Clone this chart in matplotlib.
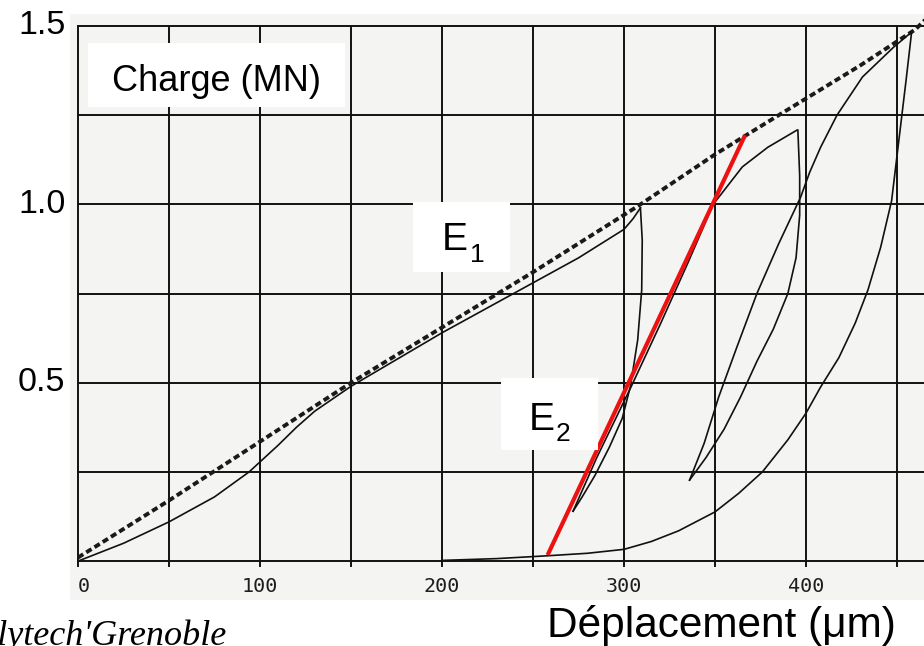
import matplotlib
matplotlib.use("Agg")
import matplotlib.pyplot as plt
from matplotlib.patches import Rectangle

plt.rcParams['font.family'] = ['Liberation Sans', 'DejaVu Sans']

# grid of the scanned chart
grid_x = [0, 50, 100, 150, 200, 250, 300, 350, 400, 450]
grid_y = [0, 0.25, 0.5, 0.75, 1.0, 1.25, 1.5]
xtick_pos = [3, 100, 200, 300, 400]
xtick_labels = ["0", "100", "200", "300", "400"]
ytick_pos = [1.5, 1.0, 0.5]
ytick_labels = ["1.5", "1.0", "0.5"]

# dashed envelope
env_x = [0, 50, 100, 150, 200, 250, 307, 350, 385, 430, 460, 466]
env_y = [0.01, 0.17, 0.335, 0.5, 0.655, 0.81, 0.993, 1.14, 1.25, 1.39, 1.49, 1.52]

# first loading up to 1.0 MN
load1_x = [0, 10, 25, 50, 75, 94, 110, 120, 130, 140, 150, 175, 200, 225, 250, 275, 300, 305, 309]
load1_y = [0, 0.02, 0.05, 0.11, 0.18, 0.25, 0.325, 0.375, 0.42, 0.455, 0.49, 0.565, 0.64, 0.71, 0.78, 0.85, 0.93, 0.96, 0.99]

unload1_x = [309, 310, 309.7, 307.5, 303.5, 299, 292, 284, 277, 272]
unload1_y = [0.99, 0.9, 0.76, 0.62, 0.49, 0.40, 0.32, 0.24, 0.18, 0.14]

reload1_x = [272, 285, 304, 320, 335, 349, 365, 379, 395]
reload1_y = [0.14, 0.29, 0.49, 0.665, 0.835, 1.0, 1.105, 1.16, 1.208]

unload2_x = [395.5, 396.5, 396.5, 394.5, 390, 382, 373, 364, 355, 345, 336]
unload2_y = [1.208, 1.08, 0.97, 0.85, 0.75, 0.65, 0.56, 0.46, 0.37, 0.29, 0.227]

reload2_x = [336, 344, 352, 362, 373, 385, 397, 402, 408, 417, 431, 448, 458]
reload2_y = [0.227, 0.33, 0.46, 0.6, 0.75, 0.89, 1.02, 1.09, 1.16, 1.25, 1.357, 1.44, 1.483]

unload3_x = [458, 455, 451, 447, 441, 434, 427, 418, 408, 400, 390, 376, 363, 350, 330, 315, 300, 280, 258, 230, 200]
unload3_y = [1.483, 1.35, 1.18, 1.01, 0.88, 0.76, 0.667, 0.57, 0.488, 0.415, 0.34, 0.25, 0.19, 0.138, 0.085, 0.055, 0.033, 0.022, 0.015, 0.007, 0.002]

# red tangent E2
e2_x = [258, 366.5]
e2_y = [0.017, 1.194]

W, H = 924, 646
fig = plt.figure(figsize=(9.24, 6.46), dpi=100)
fig.patch.set_facecolor("white")

# axes covering the scanned area (pixels 70..924 x 14..600)
ax = fig.add_axes([70 / W, 46 / H, 854 / W, 586 / H])
ax.set_xlim(-4.4, 464.8)
ax.set_ylim(-0.109, 1.5335)
ax.set_facecolor("#f4f5f3")
for s in ax.spines.values():
    s.set_visible(False)
ax.set_xticks([])
ax.set_yticks([])

for gx in grid_x:
    ax.plot([gx, gx], [-0.015, 1.5], color="#111111", lw=1.4, zorder=1)
for gy in grid_y:
    ax.plot([0, 470], [gy, gy], color="#111111", lw=1.4, zorder=1)

for x, lab in zip(xtick_pos, xtick_labels):
    ax.text(x, -0.07, lab, ha="center", va="center", fontsize=14.5,
            family="DejaVu Sans Mono", color="#1e1e1e")

ax.plot(env_x, env_y, color="#1a1a1a", lw=2.8, ls=(0, (1.6, 0.9)), zorder=3)
for cx, cy in [(load1_x, load1_y), (unload1_x, unload1_y), (reload1_x, reload1_y),
               (unload2_x, unload2_y), (reload2_x, reload2_y), (unload3_x, unload3_y)]:
    ax.plot(cx, cy, color="#111111", lw=1.2, zorder=3)

ax.plot(e2_x, e2_y, color="#ee1111", lw=3.0, solid_capstyle="butt", zorder=4)

for y, lab in zip(ytick_pos, ytick_labels):
    ax.text(-7, y, lab, ha="right", va="center", fontsize=24.5, color="black", clip_on=False)


def px(x, y):
    return x / W, 1 - y / H


def box(x0, y0, x1, y1):
    fig.patches.append(Rectangle(px(x0, y1), (x1 - x0) / W, (y1 - y0) / H,
                                 transform=fig.transFigure, facecolor="white",
                                 edgecolor="none", zorder=5))


box(88, 43, 345, 107)
fig.text(*px(216, 91), "Charge (MN)", ha="center", va="baseline", fontsize=26, zorder=6)

box(413, 202, 510, 272)
fig.text(*px(442, 250), "E", ha="left", va="baseline", fontsize=28, zorder=6)
fig.text(*px(470, 262), "1", ha="left", va="baseline", fontsize=19, zorder=6)

box(501, 378, 598, 450)
fig.text(*px(529, 430), "E", ha="left", va="baseline", fontsize=28, zorder=6)
fig.text(*px(556, 441), "2", ha="left", va="baseline", fontsize=19, zorder=6)

fig.text(*px(547, 637), "Déplacement (μm)", ha="left", va="baseline", fontsize=30.5)
fig.text(*px(-43, 645), "Polytech'Grenoble", ha="left", va="baseline", fontsize=26,
         family="Liberation Serif", style="italic")

fig.savefig("out.png", dpi=100)
